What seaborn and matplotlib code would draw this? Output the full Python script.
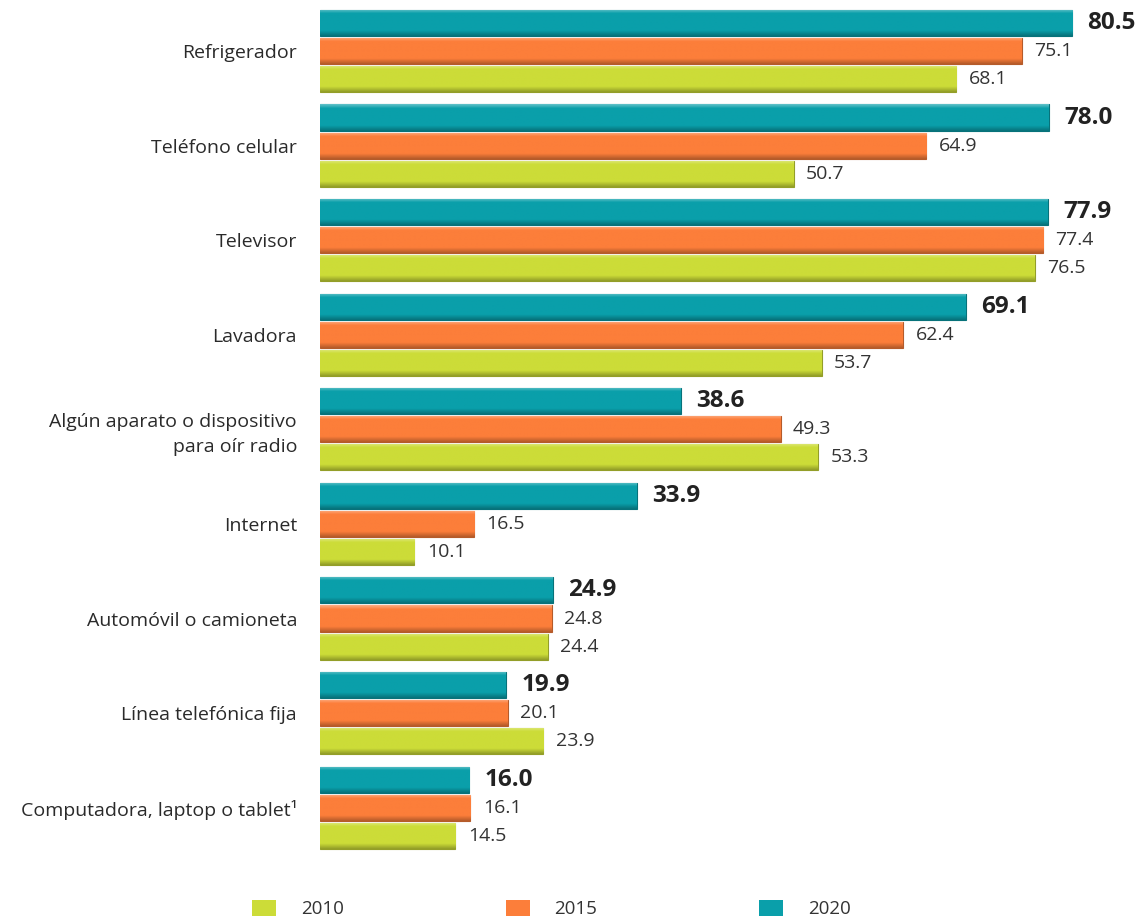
import numpy as np
import pandas as pd
import matplotlib
matplotlib.use("Agg")
import matplotlib.pyplot as plt
import matplotlib.colors as mcolors
from matplotlib.patches import Patch
import seaborn as sns

categories = [
    "Refrigerador",
    "Teléfono celular",
    "Televisor",
    "Lavadora",
    "Algún aparato o dispositivo\npara oír radio",
    "Internet",
    "Automóvil o camioneta",
    "Línea telefónica fija",
    "Computadora, laptop o tablet¹",
]
vals_2020 = [80.5, 78.0, 77.9, 69.1, 38.6, 33.9, 24.9, 19.9, 16.0]
vals_2015 = [75.1, 64.9, 77.4, 62.4, 49.3, 16.5, 24.8, 20.1, 16.1]
vals_2010 = [68.1, 50.7, 76.5, 53.7, 53.3, 10.1, 24.4, 23.9, 14.5]
years = ["2020", "2015", "2010"]
colors = {"2010": "#CCDC38", "2015": "#FC7E3A", "2020": "#0A9FAA"}

df = pd.DataFrame({
    "cat": categories * 3,
    "year": ["2020"] * 9 + ["2015"] * 9 + ["2010"] * 9,
    "val": vals_2020 + vals_2015 + vals_2010,
})

sns.set_theme(style="white")
plt.rcParams["font.family"] = ["Open Sans", "DejaVu Sans"]

fig = plt.figure(figsize=(11.44, 9.22), dpi=100)
ax = fig.add_axes([0.2797, 0.0727, 0.7203, 0.9233])

sns.barplot(data=df, y="cat", x="val", hue="year", hue_order=years,
            palette=colors, orient="h", width=0.89, gap=0.07, ax=ax,
            legend=False, edgecolor="none")

# bevel-like shading on each bar
for cont, yr in zip(ax.containers, years):
    base = np.array(mcolors.to_rgb(colors[yr]))
    light = np.clip(base + (1 - base) * 0.35, 0, 1)
    dark = base * 0.72
    n = 40
    t = np.linspace(0, 1, n)
    grad = np.empty((n, 2, 3))
    for i, v in enumerate(t):
        if v < 0.15:
            c = light + (base - light) * (v / 0.15)
        elif v < 0.8:
            c = base
        else:
            c = base + (dark - base) * ((v - 0.8) / 0.2)
        grad[i, :, :] = c
    for p in cont.patches:
        x0, y0 = p.get_x(), p.get_y()
        w, h = p.get_width(), p.get_height()
        im = ax.imshow(grad, extent=(x0, x0 + w, y0 + h, y0), aspect="auto",
                       origin="upper", zorder=p.get_zorder() + 0.1,
                       interpolation="bilinear")
        im.set_clip_path(p)
        p.set_edgecolor(dark)
        p.set_linewidth(0.8)

for cont, yr in zip(ax.containers, years):
    if yr == "2020":
        ax.bar_label(cont, fmt="%.1f", padding=11, fontsize=17.5,
                     fontweight="bold", color="#222222")
    else:
        ax.bar_label(cont, fmt="%.1f", padding=9, fontsize=14,
                     color="#333333")

ax.set_xlim(0, 88.2)
ax.set_ylim(8.5, -0.5)
ax.set_xlabel("")
ax.set_ylabel("")
ax.set_xticks([])
ax.tick_params(axis="y", length=0, pad=16.5, labelsize=14, labelcolor="#2a2a2a")
for lbl in ax.get_yticklabels():
    lbl.set_horizontalalignment("right")
    lbl.set_linespacing(1.45)
for s in ax.spines.values():
    s.set_visible(False)

handles = [Patch(facecolor=colors[y], edgecolor="none") for y in ["2010", "2015", "2020"]]
fig.legend(handles, ["2010", "2015", "2020"], loc="center",
           bbox_to_anchor=(0.482, 0.014), ncol=3, frameon=False,
           fontsize=13.5, handlelength=1.28, handleheight=0.95,
           handletextpad=1.3, columnspacing=8.65, labelcolor="#333333")

fig.savefig("out.png", dpi=100, facecolor="white")
